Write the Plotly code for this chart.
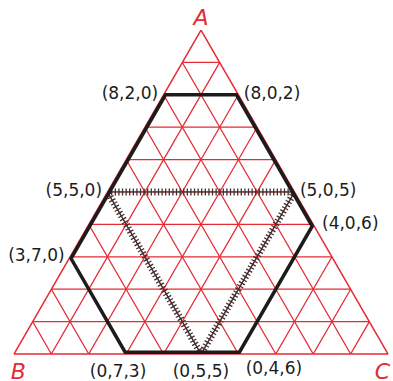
import plotly.graph_objects as go

# Hexagon vertices (A, B, C components, sum = 10)
hex_a = [8, 8, 4, 0, 0, 3]
hex_b = [2, 0, 0, 4, 7, 7]
hex_c = [0, 2, 6, 6, 3, 0]
# hexagon sides that lie on the outer triangle (indices of vertex pairs)
edge_sides = [(1, 2), (3, 4), (5, 0)]

# Hatched inner triangle
tri_a = [5, 5, 0]
tri_b = [5, 0, 5]
tri_c = [0, 5, 5]

# Labels beside the vertices (left / right of the point)
side_a = [8, 8, 5, 5, 4, 3]
side_b = [2, 0, 5, 0, 0, 7]
side_c = [0, 2, 0, 5, 6, 0]
side_text = ["(8,2,0)", "(8,0,2)", "(5,5,0)", "(5,0,5)", "\u2009(4,0,6)", "(3,7,0)"]
side_pos = ["middle left", "middle right", "middle left", "middle right",
            "middle right", "middle left"]

# Labels under the base
base_a = [0, 0, 0]
base_b = [7, 5, 4]
base_c = [3, 5, 6]
base_text = ["(0,7,3)\u00a0\u00a0\u00a0", "(0,5,5)", "(0,4,6)"]
base_pos = ["bottom center", "bottom center", "bottom right"]

# Corner names
top_a, top_b, top_c, top_text = [10], [0], [0], ["A"]
low_a = [0, 0]
low_b = [10, 0]
low_c = [0, 10]
low_text = ["\u2009\u2009B", "C\u00a0\u2009"]

RED = "#e52a33"
INK = "#1c1c1c"
HATCH = "#3e3232"
FONT = "DejaVu Sans"

fig = go.Figure()

def closed(v):
    return list(v) + [v[0]]

def segments(v, pairs):
    out = []
    for i, j in pairs:
        out += [v[i], v[j], None]
    return out

def hidden_marker(size):
    return dict(size=size, color="black", opacity=0, line=dict(width=0))

# hatched triangle: thin line + thick dashed line producing ticks
fig.add_trace(go.Scatterternary(
    a=closed(tri_a), b=closed(tri_b), c=closed(tri_c), mode="lines",
    line=dict(color=HATCH, width=1.2), hoverinfo="skip", showlegend=False))
fig.add_trace(go.Scatterternary(
    a=closed(tri_a), b=closed(tri_b), c=closed(tri_c), mode="lines",
    line=dict(color=HATCH, width=7, dash="1.3px,2.3px"),
    hoverinfo="skip", showlegend=False))

# hexagon
fig.add_trace(go.Scatterternary(
    a=closed(hex_a), b=closed(hex_b), c=closed(hex_c), mode="lines",
    line=dict(color=INK, width=3.5), hoverinfo="skip", showlegend=False))
# sides lying on the triangle border are clipped to half width: draw them wider
fig.add_trace(go.Scatterternary(
    a=segments(hex_a, edge_sides), b=segments(hex_b, edge_sides),
    c=segments(hex_c, edge_sides), mode="lines", connectgaps=False,
    line=dict(color=INK, width=7), hoverinfo="skip", showlegend=False))

# vertex labels (invisible markers set the text offset)
fig.add_trace(go.Scatterternary(
    a=side_a, b=side_b, c=side_c, mode="markers+text", text=side_text,
    textposition=side_pos, marker=hidden_marker(7),
    textfont=dict(family=FONT, size=17, color=INK),
    hoverinfo="skip", showlegend=False, cliponaxis=False))
fig.add_trace(go.Scatterternary(
    a=base_a, b=base_b, c=base_c, mode="markers+text", text=base_text,
    textposition=base_pos, marker=hidden_marker([15, 15, 10]),
    textfont=dict(family=FONT, size=17, color=INK),
    hoverinfo="skip", showlegend=False, cliponaxis=False))

# corner names
fig.add_trace(go.Scatterternary(
    a=top_a, b=top_b, c=top_c, mode="text", text=top_text,
    textposition="top center",
    textfont=dict(family=FONT, size=22, color=RED, style="italic"),
    hoverinfo="skip", showlegend=False, cliponaxis=False))
fig.add_trace(go.Scatterternary(
    a=low_a, b=low_b, c=low_c, mode="markers+text", text=low_text,
    textposition="bottom center", marker=hidden_marker(12),
    textfont=dict(family=FONT, size=22, color=RED, style="italic"),
    hoverinfo="skip", showlegend=False, cliponaxis=False))

axis_common = dict(
    min=0, dtick=1, showticklabels=False, ticks="",
    linecolor=RED, linewidth=1.5, gridcolor=RED, gridwidth=1.25,
    showgrid=True, layer="below traces", title=dict(text=""),
)

fig.update_layout(
    width=393, height=381,
    margin=dict(l=13, r=4, t=30, b=27, autoexpand=False),
    paper_bgcolor="white",
    showlegend=False,
    hovermode=False,
    ternary=dict(
        sum=10,
        bgcolor="white",
        domain=dict(x=[0, 1], y=[0, 1]),
        aaxis=axis_common,
        baxis=axis_common,
        caxis=axis_common,
    ),
)

# remove the browser's default 8px body margin so the figure fills the window
fig.write_html("out.html",
               config={"displayModeBar": False, "staticPlot": True},
               post_script="document.body.style.margin='0';")
